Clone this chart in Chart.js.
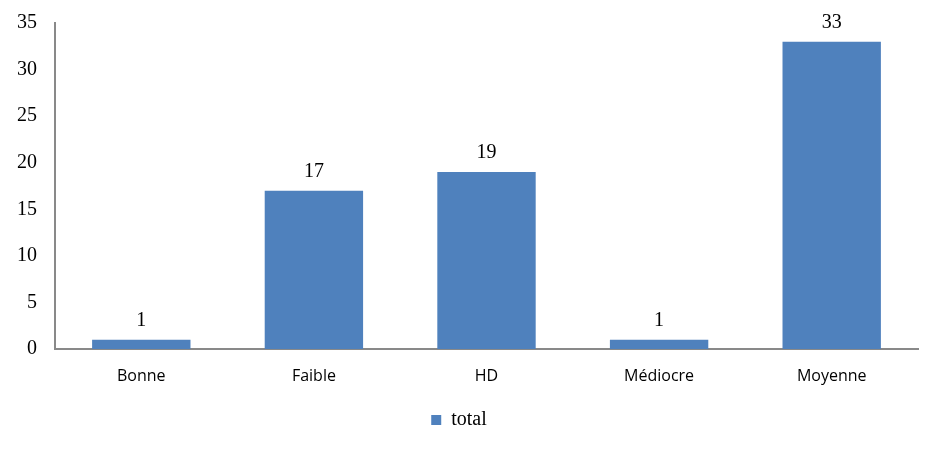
<!DOCTYPE html>
<html>
<head>
<meta charset="utf-8">
<script src="https://cdn.jsdelivr.net/npm/chart.js@4"></script>
<style>
  html, body { margin: 0; padding: 0; background: #fff; }
  #wrap { width: 948px; height: 450px; }
</style>
</head>
<body>
<div id="wrap"><canvas id="niveauChart"></canvas></div>
<script>
// Données du graphique
const categories = ['Bonne', 'Faible', 'HD', 'Médiocre', 'Moyenne'];
const totals = [1, 17, 19, 1, 33];
const yTicks = [0, 5, 10, 15, 20, 25, 30, 35];

// Étiquettes de valeur au-dessus des barres
const valueLabels = {
    id: 'valueLabels',
    afterDatasetsDraw(chart) {
        const ctx = chart.ctx;
        const meta = chart.getDatasetMeta(0);
        ctx.save();
        ctx.font = '20px "Liberation Serif", serif';
        ctx.fillStyle = '#000';
        ctx.textAlign = 'center';
        ctx.textBaseline = 'bottom';
        meta.data.forEach((bar, i) => {
            ctx.fillText(String(totals[i]), bar.x, bar.y - 9);
        });
        ctx.restore();
    }
};

const ctx = document.getElementById('niveauChart').getContext('2d');
new Chart(ctx, {
    type: 'bar',
    data: {
        labels: categories,
        datasets: [{
            label: 'total',
            data: totals,
            backgroundColor: '#4F81BD',
            borderWidth: 0,
            categoryPercentage: 0.57,
            barPercentage: 1.0
        }]
    },
    options: {
        responsive: true,
        maintainAspectRatio: false,
        animation: false,
        layout: { padding: { top: 23, right: 30, left: 0, bottom: 10 } },
        plugins: {
            legend: {
                position: 'bottom',
                labels: {
                    boxWidth: 10,
                    boxHeight: 10,
                    color: '#000',
                    font: { family: '"Liberation Serif", serif', size: 20 },
                    padding: 6
                }
            },
            tooltip: { enabled: false }
        },
        scales: {
            x: {
                grid: { display: false, drawTicks: false },
                border: { display: true, color: '#898989', width: 2 },
                ticks: {
                    color: '#000',
                    font: { family: '"Open Sans", sans-serif', size: 16 },
                    padding: 18
                },
                afterFit(scale) { scale.height = 55; }
            },
            y: {
                min: 0,
                max: 35,
                afterBuildTicks(scale) { scale.ticks = yTicks.map(v => ({ value: v })); },
                grid: { display: false, drawTicks: false },
                border: { display: true, color: '#898989', width: 2 },
                ticks: {
                    color: '#000',
                    font: { family: '"Liberation Serif", serif', size: 20 },
                    padding: 18
                },
                afterFit(scale) {
                    scale.width = 55;
                    scale.paddingTop = 0;
                    scale.paddingBottom = 0;
                }
            }
        }
    },
    plugins: [valueLabels]
});
</script>
</body>
</html>
